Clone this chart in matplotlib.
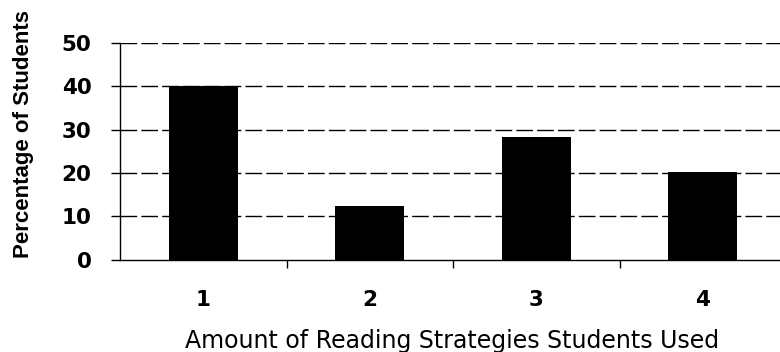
import matplotlib
matplotlib.use("Agg")
import matplotlib.pyplot as plt

categories = ["1", "2", "3", "4"]
values = [40, 12.4, 28.3, 20.3]
yticks = [0, 10, 20, 30, 40, 50]

plt.rcParams['font.family'] = ['Liberation Sans', 'DejaVu Sans']

W, H = 780, 352
fig = plt.figure(figsize=(W / 100, H / 100), dpi=100)
x0, x1 = 120, 786
y_top, y_bot = 43, 259.5
ax = fig.add_axes([x0 / W, 1 - y_bot / H, (x1 - x0) / W, (y_bot - y_top) / H])

x = list(range(len(categories)))
ax.bar(x, values, width=0.415, color='black', zorder=3)
ax.set_xlim(-0.5, 3.5)
ax.set_ylim(0, 50)
for v in yticks[1:]:
    ax.axhline(v, color='black', lw=1.0, ls=(0, (12, 3)), zorder=1)
ax.set_yticks(yticks)
ax.set_yticklabels([str(v) for v in yticks], fontsize=15.5, fontweight='bold',
                   family=['DejaVu Sans'])
ax.set_xticks(x)
ax.set_xticklabels(categories, fontsize=15.5, fontweight='bold', family=['DejaVu Sans'])
ax.tick_params(axis='x', which='major', length=0, pad=22)
ax.tick_params(axis='y', length=6.5, width=1.0, pad=14)
ax.set_xticks([0.5, 1.5, 2.5], minor=True)
ax.tick_params(axis='x', which='minor', length=6, width=1.0, direction='out')

for s in ['top', 'right']:
    ax.spines[s].set_visible(False)
ax.spines['left'].set_linewidth(1.0)
ax.spines['bottom'].set_linewidth(1.0)

ax.set_ylabel("Percentage of Students", fontsize=16, fontweight='bold')
ax.yaxis.set_label_coords((34 - x0) / (x1 - x0), (y_bot - 134) / (y_bot - y_top))
ax.set_xlabel("Amount of Reading Strategies Students Used", fontsize=17,
              family=['DejaVu Sans'])
ax.xaxis.set_label_coords((452 - x0) / (x1 - x0), -(329 - y_bot) / (y_bot - y_top))

fig.savefig("out.png", dpi=100)
